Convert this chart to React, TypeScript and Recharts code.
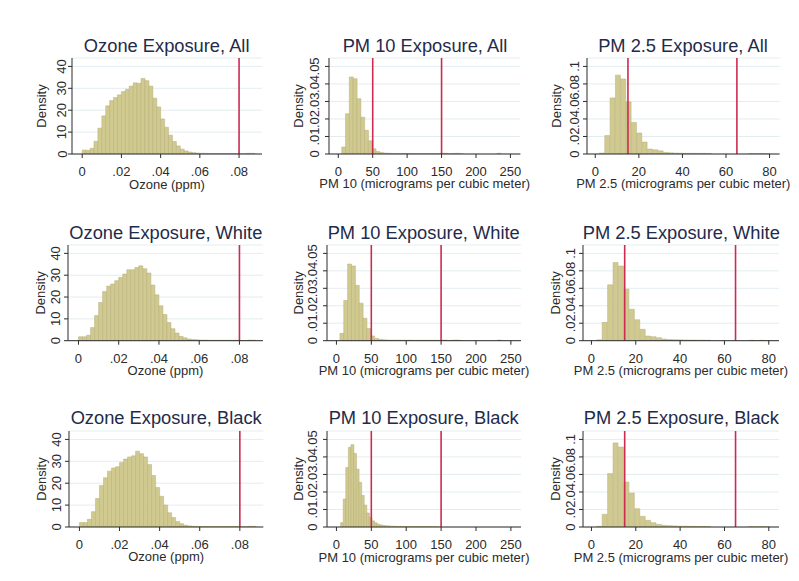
import { ComposedChart, Bar, XAxis, YAxis, CartesianGrid, ReferenceLine } from "recharts"

// axis ticks and labels
const ozoneTicks = [0, 0.02, 0.04, 0.06, 0.08]
const ozoneTickLabels = ["0", ".02", ".04", ".06", ".08"]
const ozoneDensityTicks = [0, 10, 20, 30, 40]
const ozoneDensityLabels = ["0", "10", "20", "30", "40"]

const pm10Ticks = [0, 50, 100, 150, 200, 250]
const pm10TickLabels = ["0", "50", "100", "150", "200", "250"]
const pm10DensityTicks = [0, 0.01, 0.02, 0.03, 0.04, 0.05]
const pm10DensityLabels = ["0", ".01", ".02", ".03", ".04", ".05"]

const pm25Ticks = [0, 20, 40, 60, 80]
const pm25TickLabels = ["0", "20", "40", "60", "80"]
const pm25DensityTicks = [0, 0.02, 0.04, 0.06, 0.08, 0.1]
const pm25DensityLabels = ["0", ".02", ".04", ".06", ".08", ".1"]

// air quality standards (red lines)
const ozoneStandards = [0.08]
const pm10Standards = [50, 150]
const pm25Standards = [15, 65]

// histogram bins: first edge + width
const ozoneBins = { start: 0, width: 0.002 }
const pm10Bins = { start: 5, width: 5.5 }
const pm10BlackBins = { start: 6, width: 3.7 }
const pm25AllBins = { start: 1.9, width: 2.45 }
const pm25Bins = { start: 2.4, width: 2.45 }

// densities per bin
const ozoneAll = [
  1.8, 1.7, 2.6, 5.8, 11.8, 17.4, 22, 24.4, 25.8, 27,
  28.5, 29.5, 31, 32.5, 32.3, 34.5, 33.5, 31, 25.5, 21.5,
  16, 12.2, 8.6, 5.7, 3.7, 2.2, 1.4, 0.9, 0.6, 0.4,
  0.3, 0.3, 0.2, 0.2, 0.2, 0.2, 0.2, 0.2, 0.2, 0.2,
  0.1, 0.1, 0.3, 0.3,
]
const ozoneWhite = [
  1.8, 1.8, 2.5, 6, 11.5, 17.5, 22.5, 25, 26, 27.5,
  29, 30.5, 32.5, 32.5, 33.5, 34.3, 33, 31, 25.5, 21,
  16, 12, 8.3, 5.5, 3.5, 2, 1.3, 0.8, 0.5, 0.4,
  0.3, 0.3, 0.2, 0.2, 0.2, 0.2, 0.2, 0.2, 0.2, 0.2,
  0.1, 0.1, 0.3, 0.3,
]
const ozoneBlack = [
  2, 2, 3.5, 7, 13, 19, 22.5, 25.5, 27, 27.5,
  29.5, 31, 32, 32.5, 34.6, 33.5, 32, 28.5, 23.5, 18,
  14, 10, 6.5, 4.3, 2.5, 1.5, 0.8, 0.5, 0.3, 0.2,
  0.2, 0.2, 0.2, 0.2, 0.2, 0.2, 0.2, 0.2, 0.2, 0.2,
  0.1, 0.1, 0.3, 0.3,
]

const pm10All = [
  0.004, 0.023, 0.044, 0.043, 0.0316, 0.021, 0.0135, 0.0075, 0.003, 0.0014,
  0.0008, 0.0005, 0.0004, 0.0003, 0.0003, 0.0003, 0.0003, 0.0003, 0.0003, 0.0002,
  0.0002, 0.0002, 0.0002, 0.0002, 0.0002, 0.0002, 0.0004, 0.0004, 0.0001, 0.0003,
  0.0004, 0.0001, 0, 0, 0, 0, 0, 0, 0, 0,
  0, 0.0004, 0,
]
const pm10White = [
  0.0042, 0.023, 0.0439, 0.0428, 0.0317, 0.0215, 0.0128, 0.007, 0.0027, 0.0013,
  0.0008, 0.0005, 0.0004, 0.0003, 0.0003, 0.0003, 0.0003, 0.0003, 0.0003, 0.0002,
  0.0002, 0.0002, 0.0002, 0.0002, 0.0002, 0.0002, 0.0004, 0.0004, 0.0001, 0.0003,
  0.0004, 0.0001, 0, 0, 0, 0, 0, 0, 0, 0,
  0, 0.0004, 0,
]
const pm10Black = [
  0.0025, 0.016, 0.034, 0.0455, 0.047, 0.042, 0.033, 0.0255, 0.018, 0.0125,
  0.008, 0.0055, 0.0035, 0.0024, 0.0016, 0.0012, 0.0009, 0.0007, 0.0006, 0.0005,
  0.0004, 0.0004, 0.0003, 0.0003, 0.0003, 0.0002, 0.0002, 0.0002, 0.0002, 0.0002,
  0.0002, 0.0002, 0.0002, 0.0002, 0.0002, 0.0002, 0.0001, 0.0001,
]

const pm25All = [
  0.001, 0.021, 0.064, 0.09, 0.0857, 0.0595, 0.036, 0.024, 0.0136, 0.0056,
  0.0048, 0.0036, 0.0017, 0.0013, 0.001, 0.0009, 0.0008, 0.0008, 0.0007, 0.0007,
  0.0006, 0, 0, 0, 0, 0, 0, 0, 0.0005, 0.0002,
  0.0005, 0.0002,
]
const pm25White = [
  0.001, 0.021, 0.064, 0.0895, 0.0855, 0.059, 0.036, 0.024, 0.013, 0.0053,
  0.0046, 0.0034, 0.0019, 0.0014, 0.0011, 0.001, 0.0009, 0.0008, 0.0007, 0.0007,
  0.0006, 0, 0, 0, 0, 0, 0, 0, 0.0005, 0.0002,
  0.0005, 0.0002,
]
const pm25Black = [
  0.0008, 0.0145, 0.061, 0.096, 0.0913, 0.0513, 0.0388, 0.0209, 0.0122, 0.0076,
  0.0049, 0.003, 0.0019, 0.0015, 0.0012, 0.001, 0.0009, 0.0008, 0.0007, 0.0006,
  0.0005, 0, 0, 0, 0, 0, 0, 0, 0.0005, 0.0002,
  0.0005, 0.0002,
]

const FONT = '"Liberation Sans", Arial, Helvetica, sans-serif'
const BAR_FILL = "#d0ca90"
const BAR_EDGE = "#b6af79"
const STD_RED = "#cc2b52"
const GRID = "#e3edf0"
const INK = "#2b2b2b"
const TITLE_INK = "#1f2b4a"

const YW = 50 // y axis band
const XH = 45 // x axis band
const PAD = 4
const RPAD = 18 // room for the long x titles

const ozone = {
  xTitle: "Ozone (ppm)",
  xDomain: [-0.0052, 0.0917],
  yDomain: [0, 43.84],
  xTicks: ozoneTicks,
  xLabels: ozoneTickLabels,
  yTicks: ozoneDensityTicks,
  yLabels: ozoneDensityLabels,
  standards: ozoneStandards,
}
const pm10 = {
  xTitle: "PM 10 (micrograms per cubic meter)",
  xDomain: [-13.5, 264.5],
  yDomain: [0, 0.0548],
  xTicks: pm10Ticks,
  xLabels: pm10TickLabels,
  yTicks: pm10DensityTicks,
  yLabels: pm10DensityLabels,
  standards: pm10Standards,
}
const pm25 = {
  xTitle: "PM 2.5 (micrograms per cubic meter)",
  xDomain: [-3.8, 84.6],
  yDomain: [0, 0.1096],
  xTicks: pm25Ticks,
  xLabels: pm25TickLabels,
  yTicks: pm25DensityTicks,
  yLabels: pm25DensityLabels,
  standards: pm25Standards,
}

const panels = [
  { ...ozone, title: "Ozone Exposure, All", values: ozoneAll, bins: ozoneBins, box: { l: 71.7, r: 261.7, t: 58.3, b: 154.3 }, tickOff: 5.5, densOff: 26 },
  { ...pm10, title: "PM 10 Exposure, All", values: pm10All, bins: pm10Bins, box: { l: 329.3, r: 520.7, t: 58.3, b: 154.3 }, tickOff: 10, densOff: 26 },
  { ...pm25, title: "PM 2.5 Exposure, All", values: pm25All, bins: pm25AllBins, box: { l: 586.7, r: 779.3, t: 58.3, b: 154.3 }, tickOff: 8.4, densOff: 26 },
  { ...ozone, title: "Ozone Exposure, White", values: ozoneWhite, bins: ozoneBins, box: { l: 68.3, r: 263.3, t: 245, b: 340.7 }, tickOff: 8.3, densOff: 22.6 },
  { ...pm10, title: "PM 10 Exposure, White", values: pm10White, bins: pm10Bins, box: { l: 326.7, r: 520.7, t: 245, b: 340.7 }, tickOff: 10, densOff: 24 },
  { ...pm25, title: "PM 2.5 Exposure, White", values: pm25White, bins: pm25Bins, box: { l: 583.3, r: 779.3, t: 245, b: 340.7 }, tickOff: 8, densOff: 23 },
  { ...ozone, title: "Ozone Exposure, Black", values: ozoneBlack, bins: ozoneBins, box: { l: 69, r: 263.3, t: 430.7, b: 526.7 }, tickOff: 8.3, densOff: 22.6 },
  { ...pm10, title: "PM 10 Exposure, Black", values: pm10Black, bins: pm10BlackBins, box: { l: 326.7, r: 520.7, t: 430.7, b: 526.7 }, tickOff: 10, densOff: 24 },
  { ...pm25, title: "PM 2.5 Exposure, Black", values: pm25Black, bins: pm25Bins, box: { l: 583.3, r: 779.3, t: 430.7, b: 526.7 }, tickOff: 8, densOff: 23 },
]

function Panel({ p }: { p: any }) {
  const w = p.box.r - p.box.l
  const h = p.box.b - p.box.t
  const data = p.values.map((d: number, i: number) => ({
    x: p.bins.start + (i + 0.5) * p.bins.width,
    d,
  }))
  const axisY = PAD + h

  const xTick = (props: any) => (
    <text x={props.x} y={axisY + 22.4} textAnchor="middle" fontSize={13} fill={INK} fontFamily={FONT}>
      {p.xLabels[p.xTicks.indexOf(props.payload.value)]}
    </text>
  )
  const yTick = (props: any) => {
    const tx = YW - p.tickOff
    return (
      <text x={tx} y={props.y} transform={`rotate(-90 ${tx} ${props.y})`} textAnchor="middle" fontSize={13} fill={INK} fontFamily={FONT}>
        {p.yLabels[p.yTicks.indexOf(props.payload.value)]}
      </text>
    )
  }
  const xTitle = () => (
    <text x={YW + w / 2} y={axisY + 34.5} textAnchor="middle" fontSize={13} fill={INK} fontFamily={FONT}>
      {p.xTitle}
    </text>
  )
  const yTitle = () => {
    const tx = YW - p.densOff
    const ty = PAD + h / 2
    return (
      <text x={tx} y={ty} transform={`rotate(-90 ${tx} ${ty})`} textAnchor="middle" fontSize={13} fill={INK} fontFamily={FONT}>
        Density
      </text>
    )
  }

  return (
    <>
      <div
        style={{
          position: "absolute",
          left: p.box.l - 40,
          width: w + 80,
          top: p.box.t - 6 - 15.5,
          fontSize: 18.3,
          lineHeight: "18.3px",
          textAlign: "center",
          whiteSpace: "nowrap",
          color: TITLE_INK,
          fontFamily: FONT,
        }}
      >
        {p.title}
      </div>
      <div style={{ position: "absolute", left: p.box.l - YW, top: p.box.t - PAD }}>
        <ComposedChart
          width={w + YW + RPAD}
          height={h + PAD + XH}
          data={data}
          margin={{ top: PAD, right: RPAD, bottom: 0, left: 0 }}
          barCategoryGap={0}
          barGap={0}
        >
          <CartesianGrid vertical={false} stroke={GRID} />
          <XAxis
            type="number"
            dataKey="x"
            domain={p.xDomain}
            ticks={p.xTicks}
            interval={0}
            allowDataOverflow
            height={XH}
            tickSize={4}
            tickMargin={0}
            axisLine={{ stroke: INK }}
            tickLine={{ stroke: INK }}
            tick={xTick}
            label={xTitle}
          />
          <YAxis
            type="number"
            domain={p.yDomain}
            ticks={p.yTicks}
            interval={0}
            allowDataOverflow
            width={YW}
            tickSize={4}
            tickMargin={0}
            axisLine={{ stroke: INK }}
            tickLine={{ stroke: INK }}
            tick={yTick}
            label={yTitle}
          />
          <Bar dataKey="d" fill={BAR_FILL} stroke={BAR_EDGE} strokeWidth={0.5} isAnimationActive={false} />
          {p.standards.map((s: number) => (
            <ReferenceLine key={s} x={s} stroke={STD_RED} strokeWidth={1.6} />
          ))}
        </ComposedChart>
      </div>
    </>
  )
}

export default function App() {
  return (
    <div style={{ position: "absolute", left: 0, top: 0, width: 799, height: 581, background: "#fff", overflow: "hidden" }}>
      {panels.map((p) => (
        <Panel key={p.title} p={p} />
      ))}
    </div>
  )
}
